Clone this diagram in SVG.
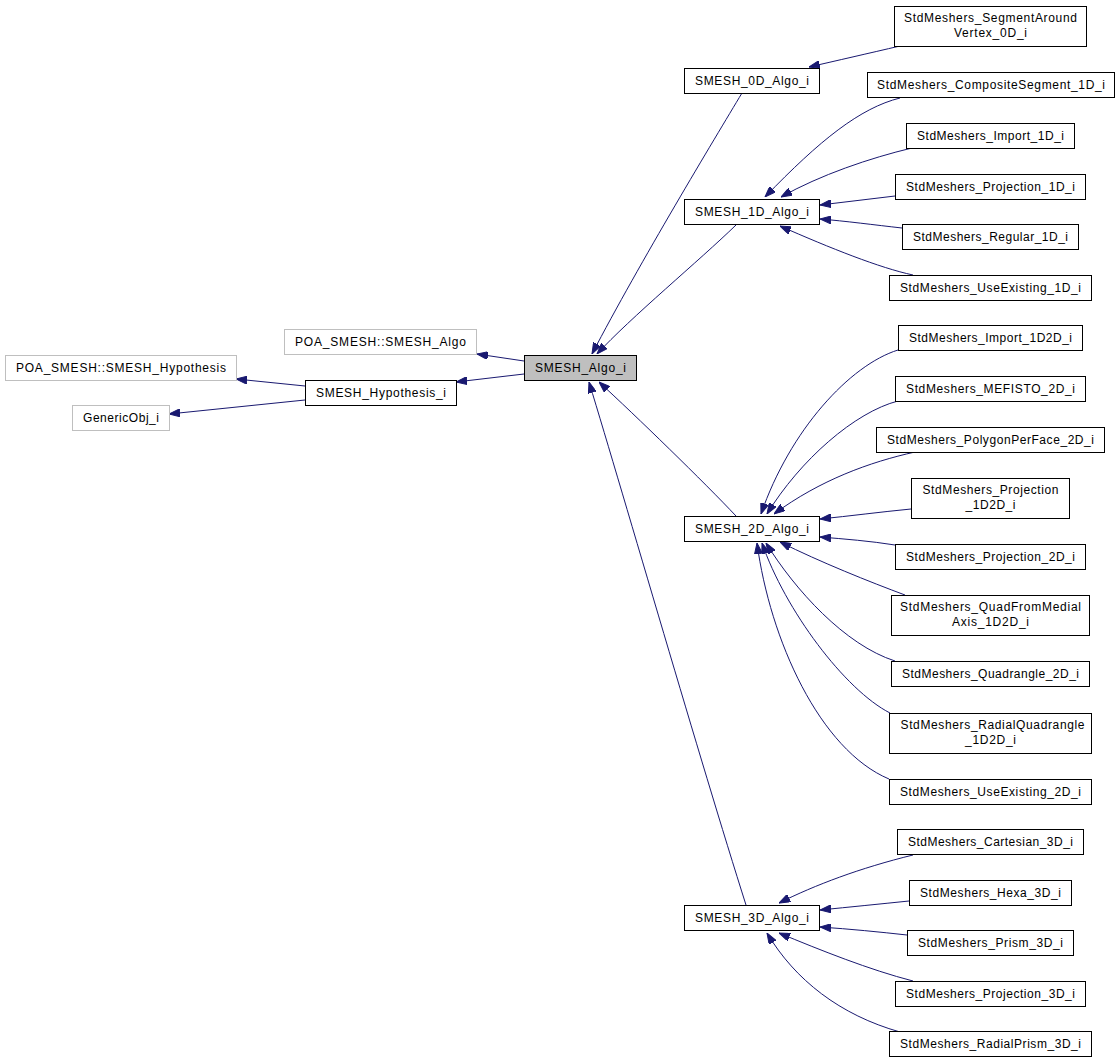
<svg xmlns="http://www.w3.org/2000/svg" width="1119" height="1063" viewBox="0 0 1119 1063">
<style>
  .n rect { fill: #ffffff; stroke: #000000; stroke-width: 1; }
  .n.ext rect { stroke: #bfbfbf; }
  .n.cur rect { fill: #bfbfbf; }
  .n text { font-family: "Liberation Sans", Arial, sans-serif; font-size: 12px; fill: #000000; text-anchor: middle; }
  .e path { fill: none; stroke: #191970; stroke-width: 1; marker-end: url(#arr); }
</style>
<defs>
  <marker id="arr" viewBox="0 0 11 8" refX="11" refY="4" markerWidth="11" markerHeight="8" markerUnits="userSpaceOnUse" orient="auto">
    <path d="M0,0 L11,4 L0,8 z" fill="#191970" stroke="#191970" stroke-width="1"/>
  </marker>
</defs>
<rect x="0" y="0" width="1119" height="1063" fill="#ffffff"/>

<g id="connectors" class="e">
  <path d="M900,46 C870,53 835,61 809,67"/>
  <path d="M742,93 C715,138 640,262 592,354"/>
  <path d="M736,225 C700,260 630,318 597,354"/>
  <path d="M900,98 C860,108 820,140 765,197"/>
  <path d="M912,148 C870,158 820,175 781,197"/>
  <path d="M895,196 C870,199 845,202 820,205"/>
  <path d="M902,228 C875,225 845,221 820,219"/>
  <path d="M913,275 C880,268 830,248 780,226"/>
  <path d="M524,361 L477,354"/>
  <path d="M524,374 L456,382"/>
  <path d="M305,386 L236,379"/>
  <path d="M305,400 L169,414"/>
  <path d="M736,516 C705,483 635,415 599,382"/>
  <path d="M746,905 C700,760 625,500 589,382"/>
  <path d="M898,350 C850,365 790,430 761,514"/>
  <path d="M898,401 C855,412 800,460 767,514"/>
  <path d="M915,452 C870,462 820,480 774,514"/>
  <path d="M911,509 C880,512 850,516 820,519"/>
  <path d="M895,545 C870,541 845,539 820,537"/>
  <path d="M905,595 C870,582 820,562 780,542"/>
  <path d="M895,661 C845,645 795,590 766,543"/>
  <path d="M890,713 C845,690 785,610 762,543"/>
  <path d="M889,779 C820,750 770,640 757,543"/>
  <path d="M913,855 C860,868 815,885 779,903"/>
  <path d="M909,901 C880,904 850,907 820,910"/>
  <path d="M907,935 C880,932 850,929 820,927"/>
  <path d="M913,981 C870,970 820,950 779,933"/>
  <path d="M900,1032 C840,1015 795,980 767,933"/>
</g>

<g id="POA_SMESH_SMESH_Algo" class="n ext"><rect x="284.5" y="329.5" width="192" height="25"/><text x="380.5" y="346" textLength="171" lengthAdjust="spacing">POA_SMESH::SMESH_Algo</text></g>
<g id="POA_SMESH_SMESH_Hypothesis" class="n ext"><rect x="5.5" y="355.5" width="231" height="25"/><text x="121" y="371.5" textLength="210" lengthAdjust="spacing">POA_SMESH::SMESH_Hypothesis</text></g>
<g id="GenericObj_i" class="n ext"><rect x="72.5" y="405.5" width="97" height="25"/><text x="121" y="421.5" textLength="76" lengthAdjust="spacing">GenericObj_i</text></g>
<g id="SMESH_Hypothesis_i" class="n"><rect x="305.5" y="380.5" width="151" height="25"/><text x="381" y="396.5" textLength="130" lengthAdjust="spacing">SMESH_Hypothesis_i</text></g>
<g id="SMESH_Algo_i" class="n cur"><rect x="524.5" y="355.5" width="112" height="25"/><text x="580.5" y="371.5" textLength="91" lengthAdjust="spacing">SMESH_Algo_i</text></g>

<g id="SMESH_0D_Algo_i" class="n"><rect x="684.5" y="68.5" width="135" height="25"/><text x="752" y="84.5" textLength="114" lengthAdjust="spacing">SMESH_0D_Algo_i</text></g>
<g id="SMESH_1D_Algo_i" class="n"><rect x="684.5" y="199.5" width="135" height="25"/><text x="752" y="215.5" textLength="114" lengthAdjust="spacing">SMESH_1D_Algo_i</text></g>
<g id="SMESH_2D_Algo_i" class="n"><rect x="684.5" y="516.5" width="135" height="25"/><text x="752" y="532.5" textLength="114" lengthAdjust="spacing">SMESH_2D_Algo_i</text></g>
<g id="SMESH_3D_Algo_i" class="n"><rect x="684.5" y="905.5" width="135" height="25"/><text x="752" y="921.5" textLength="114" lengthAdjust="spacing">SMESH_3D_Algo_i</text></g>

<g id="StdMeshers_SegmentAroundVertex_0D_i" class="n"><rect x="894.5" y="6.5" width="192" height="40"/><text x="990.5" y="22" textLength="173" lengthAdjust="spacing">StdMeshers_SegmentAround</text><text x="990.5" y="37" textLength="73" lengthAdjust="spacing">Vertex_0D_i</text></g>
<g id="StdMeshers_CompositeSegment_1D_i" class="n"><rect x="867.5" y="72.5" width="247" height="25"/><text x="991" y="88.5" textLength="228" lengthAdjust="spacing">StdMeshers_CompositeSegment_1D_i</text></g>
<g id="StdMeshers_Import_1D_i" class="n"><rect x="906.5" y="123.5" width="168" height="25"/><text x="990.5" y="139.5" textLength="147" lengthAdjust="spacing">StdMeshers_Import_1D_i</text></g>
<g id="StdMeshers_Projection_1D_i" class="n"><rect x="895.5" y="174.5" width="190" height="25"/><text x="990.5" y="190.5" textLength="169" lengthAdjust="spacing">StdMeshers_Projection_1D_i</text></g>
<g id="StdMeshers_Regular_1D_i" class="n"><rect x="902.5" y="224.5" width="176" height="25"/><text x="990.5" y="240.5" textLength="155" lengthAdjust="spacing">StdMeshers_Regular_1D_i</text></g>
<g id="StdMeshers_UseExisting_1D_i" class="n"><rect x="889.5" y="275.5" width="202" height="25"/><text x="990.5" y="291.5" textLength="181" lengthAdjust="spacing">StdMeshers_UseExisting_1D_i</text></g>

<g id="StdMeshers_Import_1D2D_i" class="n"><rect x="898.5" y="325.5" width="184" height="25"/><text x="990.5" y="341.5" textLength="163" lengthAdjust="spacing">StdMeshers_Import_1D2D_i</text></g>
<g id="StdMeshers_MEFISTO_2D_i" class="n"><rect x="895.5" y="376.5" width="190" height="25"/><text x="990.5" y="392.5" textLength="169" lengthAdjust="spacing">StdMeshers_MEFISTO_2D_i</text></g>
<g id="StdMeshers_PolygonPerFace_2D_i" class="n"><rect x="876.5" y="427.5" width="228" height="25"/><text x="990.5" y="443.5" textLength="207" lengthAdjust="spacing">StdMeshers_PolygonPerFace_2D_i</text></g>
<g id="StdMeshers_Projection_1D2D_i" class="n"><rect x="911.5" y="478.5" width="158" height="40"/><text x="990.5" y="494" textLength="136" lengthAdjust="spacing">StdMeshers_Projection</text><text x="990.5" y="509" textLength="50" lengthAdjust="spacing">_1D2D_i</text></g>
<g id="StdMeshers_Projection_2D_i" class="n"><rect x="895.5" y="544.5" width="190" height="25"/><text x="990.5" y="560.5" textLength="169" lengthAdjust="spacing">StdMeshers_Projection_2D_i</text></g>
<g id="StdMeshers_QuadFromMedialAxis_1D2D_i" class="n"><rect x="891.5" y="595.5" width="198" height="40"/><text x="990.5" y="611" textLength="181" lengthAdjust="spacing">StdMeshers_QuadFromMedial</text><text x="990.5" y="626" textLength="77" lengthAdjust="spacing">Axis_1D2D_i</text></g>
<g id="StdMeshers_Quadrangle_2D_i" class="n"><rect x="891.5" y="661.5" width="198" height="25"/><text x="990.5" y="677.5" textLength="177" lengthAdjust="spacing">StdMeshers_Quadrangle_2D_i</text></g>
<g id="StdMeshers_RadialQuadrangle_1D2D_i" class="n"><rect x="889.5" y="713.5" width="202" height="40"/><text x="992.5" y="729" textLength="184" lengthAdjust="spacing">StdMeshers_RadialQuadrangle</text><text x="990.5" y="744" textLength="51" lengthAdjust="spacing">_1D2D_i</text></g>
<g id="StdMeshers_UseExisting_2D_i" class="n"><rect x="889.5" y="779.5" width="202" height="25"/><text x="990.5" y="795.5" textLength="181" lengthAdjust="spacing">StdMeshers_UseExisting_2D_i</text></g>

<g id="StdMeshers_Cartesian_3D_i" class="n"><rect x="897.5" y="829.5" width="186" height="25"/><text x="990.5" y="845.5" textLength="165" lengthAdjust="spacing">StdMeshers_Cartesian_3D_i</text></g>
<g id="StdMeshers_Hexa_3D_i" class="n"><rect x="909.5" y="880.5" width="162" height="25"/><text x="990.5" y="896.5" textLength="141" lengthAdjust="spacing">StdMeshers_Hexa_3D_i</text></g>
<g id="StdMeshers_Prism_3D_i" class="n"><rect x="907.5" y="930.5" width="166" height="25"/><text x="990.5" y="946.5" textLength="145" lengthAdjust="spacing">StdMeshers_Prism_3D_i</text></g>
<g id="StdMeshers_Projection_3D_i" class="n"><rect x="895.5" y="981.5" width="190" height="25"/><text x="990.5" y="997.5" textLength="169" lengthAdjust="spacing">StdMeshers_Projection_3D_i</text></g>
<g id="StdMeshers_RadialPrism_3D_i" class="n"><rect x="889.5" y="1031.5" width="202" height="25"/><text x="990.5" y="1047.5" textLength="181" lengthAdjust="spacing">StdMeshers_RadialPrism_3D_i</text></g>
</svg>
